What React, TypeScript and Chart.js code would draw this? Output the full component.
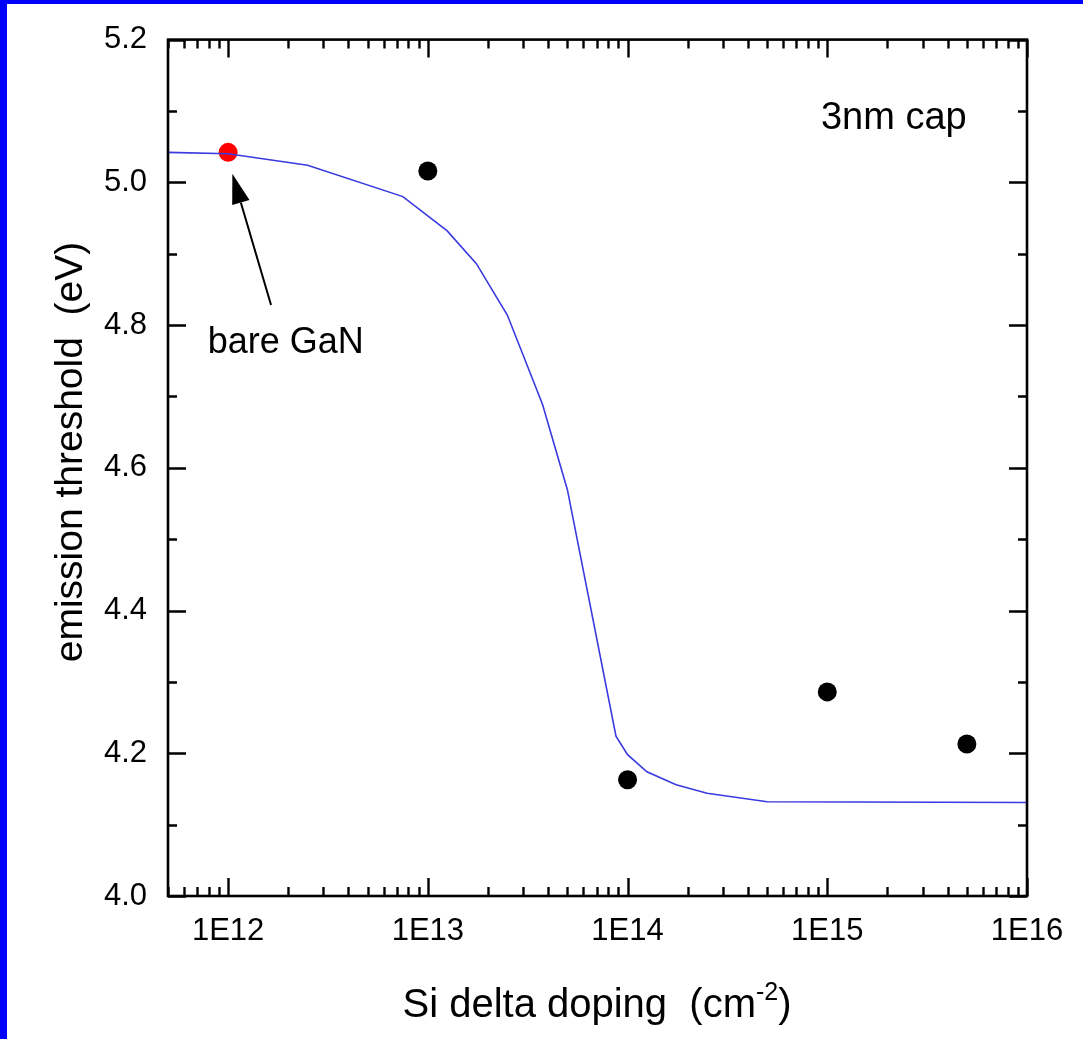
import { useEffect, useRef } from "react";
import { Chart, registerables } from "chart.js";

Chart.register(...registerables);

// ---- data ----
const curveDoping = [5e11, 1e12, 2.5e12, 7.5e12, 1.25e13, 1.75e13, 2.5e13, 3.75e13, 5e13, 8.75e13, 1e14, 1.25e14, 1.75e14, 2.5e14, 5e14, 1e16];
const curveThreshold = [5.042, 5.04, 5.024, 4.98, 4.932, 4.886, 4.814, 4.689, 4.569, 4.224, 4.198, 4.174, 4.156, 4.144, 4.132, 4.131];
const measuredDoping = [1e12, 1e13, 1e14, 1e15, 5e15];
const measuredThreshold = [5.042, 5.016, 4.163, 4.286, 4.213];
const measuredColors = ["#ff0000", "#000000", "#000000", "#000000", "#000000"];
const xTickValues = [1e12, 1e13, 1e14, 1e15, 1e16];
const xTickLabels = ["1E12", "1E13", "1E14", "1E15", "1E16"];
const yTickValues = [4.0, 4.2, 4.4, 4.6, 4.8, 5.0, 5.2];
const yTickLabels = ["4.0", "4.2", "4.4", "4.6", "4.8", "5.0", "5.2"];
const xMin = 5e11;
const xMax = 1e16;
const yMin = 4.0;
const yMax = 5.2;

const FONT = "'Liberation Sans', Arial, Helvetica, sans-serif";

const framePlugin = {
  id: "frameTicks",
  afterDraw(chart: any) {
    const ctx = chart.ctx;
    const { left, right, top, bottom } = chart.chartArea;
    const xs = chart.scales.x;
    const ys = chart.scales.y;
    ctx.save();
    ctx.strokeStyle = "#000";
    ctx.lineWidth = 2.6;
    ctx.lineCap = "butt";
    ctx.strokeRect(left, top, right - left, bottom - top);
    const major = 18;
    const minor = 9;
    ctx.beginPath();
    for (let d = 11; d <= 16; d++) {
      for (let m = 1; m <= 9; m++) {
        const v = m * Math.pow(10, d);
        if (v < xMin * 0.999 || v > xMax * 1.001) continue;
        const px = Math.round(xs.getPixelForValue(v)) + 0.5;
        const len = m === 1 ? major : minor;
        ctx.moveTo(px, bottom);
        ctx.lineTo(px, bottom - len);
        ctx.moveTo(px, top);
        ctx.lineTo(px, top + len);
      }
    }
    for (let i = 0; i <= 12; i++) {
      const v = yMin + i * 0.1;
      const py = Math.round(ys.getPixelForValue(v)) + 0.5;
      const len = i % 2 === 0 ? major : minor;
      ctx.moveTo(left, py);
      ctx.lineTo(left + len, py);
      ctx.moveTo(right, py);
      ctx.lineTo(right - len, py);
    }
    ctx.lineWidth = 2.4;
    ctx.stroke();

    // annotations
    ctx.fillStyle = "#000";
    ctx.font = `38px ${FONT}`;
    ctx.textAlign = "left";
    ctx.textBaseline = "alphabetic";
    ctx.fillText("3nm cap", xs.getPixelForValue(9.3e14), ys.getPixelForValue(5.075));
    ctx.font = `36px ${FONT}`;
    ctx.fillText("bare GaN", xs.getPixelForValue(7.9e11), ys.getPixelForValue(4.761));

    // arrow
    const tx = xs.getPixelForValue(1.05e12);
    const ty = ys.getPixelForValue(5.012);
    const sx = xs.getPixelForValue(1.64e12);
    const sy = ys.getPixelForValue(4.828);
    const ang = Math.atan2(ty - sy, tx - sx);
    const headLen = 30;
    const headW = 9;
    const bx = tx - headLen * Math.cos(ang);
    const by = ty - headLen * Math.sin(ang);
    ctx.beginPath();
    ctx.moveTo(sx, sy);
    ctx.lineTo(bx, by);
    ctx.lineWidth = 2;
    ctx.stroke();
    ctx.beginPath();
    ctx.moveTo(tx, ty);
    ctx.lineTo(bx + headW * Math.sin(ang), by - headW * Math.cos(ang));
    ctx.lineTo(bx - headW * Math.sin(ang), by + headW * Math.cos(ang));
    ctx.closePath();
    ctx.fill();

    // axis titles
    ctx.font = `39px ${FONT}`;
    ctx.textAlign = "center";
    ctx.textBaseline = "alphabetic";
    ctx.save();
    ctx.translate(82, 452);
    ctx.rotate(-Math.PI / 2);
    ctx.fillText("emission threshold  (eV)", 0, 0);
    ctx.restore();

    const main = "Si delta doping  (cm";
    const sup = "-2";
    const close = ")";
    ctx.font = `40px ${FONT}`;
    const wMain = ctx.measureText(main).width;
    const wClose = ctx.measureText(close).width;
    ctx.font = `25px ${FONT}`;
    const wSup = ctx.measureText(sup).width;
    const total = wMain + wSup + wClose;
    const cx = 597;
    const baseY = 1017;
    const x0 = cx - total / 2;
    ctx.textAlign = "left";
    ctx.font = `40px ${FONT}`;
    ctx.fillText(main, x0, baseY);
    ctx.font = `25px ${FONT}`;
    ctx.fillText(sup, x0 + wMain, baseY - 17);
    ctx.font = `40px ${FONT}`;
    ctx.fillText(close, x0 + wMain + wSup, baseY);
    ctx.restore();
  },
};

export default function App() {
  const ref = useRef<HTMLCanvasElement | null>(null);
  useEffect(() => {
    if (!ref.current) return;
    const chart = new Chart(ref.current, {
      type: "scatter",
      data: {
        datasets: [
          {
            label: "model",
            data: curveDoping.map((x, i) => ({ x, y: curveThreshold[i] })),
            showLine: true,
            borderColor: "#3a3ae0",
            borderWidth: 1.6,
            pointRadius: 0,
            tension: 0,
            fill: false,
          },
          {
            label: "measured",
            data: measuredDoping.map((x, i) => ({ x, y: measuredThreshold[i] })),
            showLine: false,
            pointRadius: 9.5,
            pointBackgroundColor: measuredColors,
            pointBorderColor: measuredColors,
            pointBorderWidth: 0,
          },
        ],
      },
      options: {
        responsive: false,
        animation: false,
        layout: { padding: { left: 0, top: 35, right: 56, bottom: 0 } },
        plugins: { legend: { display: false }, tooltip: { enabled: false }, title: { display: false } },
        scales: {
          x: {
            type: "logarithmic",
            min: xMin,
            max: xMax,
            afterBuildTicks: (scale: any) => {
              scale.ticks = xTickValues.map((v) => ({ value: v }));
            },
            afterFit: (scale: any) => {
              scale.height = 143;
            },
            grid: { display: false, drawTicks: false },
            border: { display: false },
            ticks: {
              autoSkip: false,
              maxRotation: 0,
              padding: 17,
              color: "#000",
              font: { family: FONT, size: 31 },
              callback: (_v: any, i: number) => xTickLabels[i],
            },
          },
          y: {
            type: "linear",
            min: yMin,
            max: yMax,
            afterBuildTicks: (scale: any) => {
              scale.ticks = yTickValues.map((v) => ({ value: v }));
            },
            afterFit: (scale: any) => {
              scale.width = 168;
            },
            grid: { display: false, drawTicks: false },
            border: { display: false },
            ticks: {
              autoSkip: false,
              padding: 21,
              color: "#000",
              font: { family: FONT, size: 31 },
              callback: (_v: any, i: number) => yTickLabels[i],
            },
          },
        },
      },
      plugins: [framePlugin],
    });
    return () => chart.destroy();
  }, []);

  return (
    <div style={{ position: "fixed", left: 0, top: 0, width: 1083, height: 1039, background: "#0000ff" }}>
      <div style={{ position: "absolute", left: 7, top: 4, right: 0, bottom: 0, background: "#ffffff" }} />
      <canvas ref={ref} width={1083} height={1039} style={{ position: "absolute", left: 0, top: 0, width: 1083, height: 1039 }} />
    </div>
  );
}
